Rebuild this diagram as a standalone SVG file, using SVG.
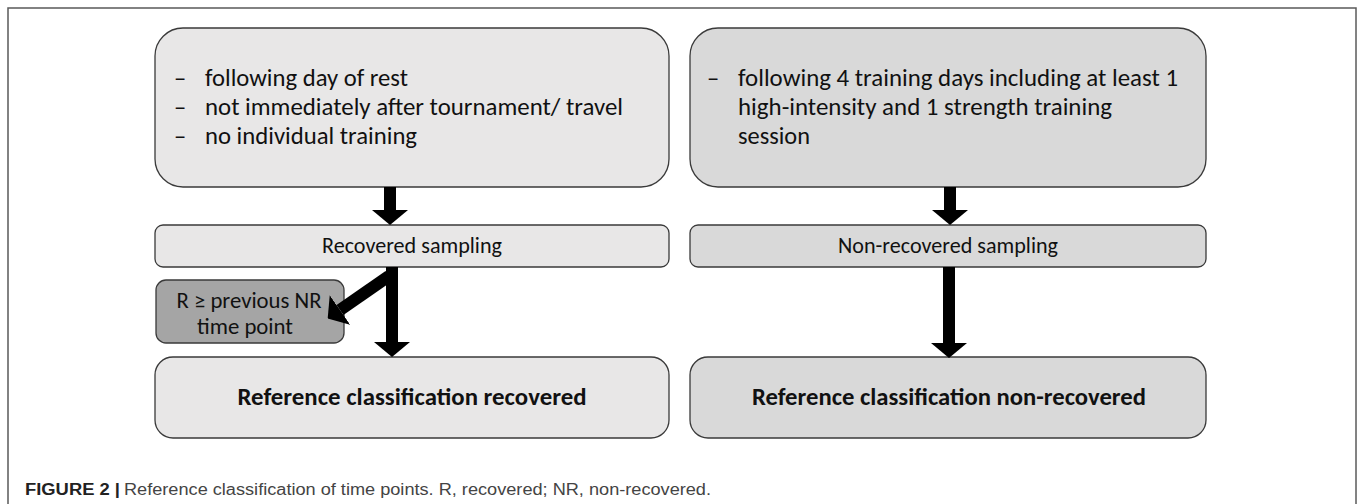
<svg xmlns="http://www.w3.org/2000/svg" width="1358" height="504" viewBox="0 0 1358 504">
<defs>
<style>
.frame{fill:none;stroke:#5a5a5a;stroke-width:1.5}
.box{stroke:#3a3a3a;stroke-width:1.3}
.light{fill:#e8e7e7}
.mid{fill:#d9d9d9}
.dark{fill:#a5a5a5}
.t{font-family:Carlito,Lato,"Liberation Sans",sans-serif;fill:#111}
.body{font-size:24.5px}
.samp{font-size:22px}
.small{font-size:22px}
.bold{font-size:24.5px;font-weight:bold}
.cap{font-family:"Liberation Sans",Arial,sans-serif;font-size:16px}
.conn{stroke:#000;stroke-width:12;fill:none}
</style>
<marker id="head" markerUnits="userSpaceOnUse" markerWidth="15" markerHeight="36" refX="0" refY="18" orient="auto" viewBox="0 0 15 36">
<path d="M0,0 L15,18 L0,36 Z" fill="#000"/>
</marker>
</defs>
<rect width="1358" height="504" fill="#fff"/>
<rect class="frame" x="8" y="8" width="1348" height="530"/>

<g id="rest-criteria">
<rect class="box light" x="155" y="28" width="514" height="159" rx="28"/>
<text class="t body" x="174" y="86">–</text>
<text class="t body" x="205" y="86" textLength="203" lengthAdjust="spacingAndGlyphs">following day of rest</text>
<text class="t body" x="174" y="115">–</text>
<text class="t body" x="205" y="115" textLength="418" lengthAdjust="spacingAndGlyphs">not immediately after tournament/ travel</text>
<text class="t body" x="174" y="144">–</text>
<text class="t body" x="205" y="144" textLength="212" lengthAdjust="spacingAndGlyphs">no individual training</text>
</g>

<g id="training-criteria">
<rect class="box mid" x="690" y="28" width="516" height="159" rx="28"/>
<text class="t body" x="707" y="86">–</text>
<text class="t body" x="738" y="86" textLength="440" lengthAdjust="spacingAndGlyphs">following 4 training days including at least 1</text>
<text class="t body" x="738" y="115" textLength="374" lengthAdjust="spacingAndGlyphs">high-intensity and 1 strength training</text>
<text class="t body" x="738" y="144" textLength="72" lengthAdjust="spacingAndGlyphs">session</text>
</g>

<g id="recovered-sampling">
<rect class="box light" x="155" y="225" width="514" height="42" rx="8"/>
<text class="t samp" x="412" y="253" text-anchor="middle" textLength="180" lengthAdjust="spacingAndGlyphs">Recovered sampling</text>
</g>

<g id="nonrecovered-sampling">
<rect class="box mid" x="690" y="225" width="516" height="42" rx="8"/>
<text class="t samp" x="948" y="253" text-anchor="middle" textLength="220" lengthAdjust="spacingAndGlyphs">Non-recovered sampling</text>
</g>

<g id="r-condition">
<rect class="box dark" x="156" y="280" width="188" height="63" rx="10"/>
<text class="t small" x="249" y="308" text-anchor="middle" textLength="145" lengthAdjust="spacingAndGlyphs">R ≥ previous  NR</text>
<text class="t small" x="245" y="334" text-anchor="middle" textLength="96" lengthAdjust="spacingAndGlyphs">time point</text>
</g>

<g id="ref-recovered">
<rect class="box light" x="155" y="357" width="514" height="81" rx="18"/>
<text class="t bold" x="412" y="405" text-anchor="middle" textLength="349" lengthAdjust="spacingAndGlyphs">Reference classification recovered</text>
</g>

<g id="ref-nonrecovered">
<rect class="box mid" x="690" y="357" width="516" height="81" rx="18"/>
<text class="t bold" x="949" y="405" text-anchor="middle" textLength="394" lengthAdjust="spacingAndGlyphs">Reference classification non-recovered</text>
</g>

<g id="connectors">
<line class="conn" x1="390" y1="187" x2="390" y2="210" marker-end="url(#head)"/>
<line class="conn" x1="950" y1="187" x2="950" y2="210" marker-end="url(#head)"/>
<line class="conn" x1="392" y1="267" x2="392" y2="342" marker-end="url(#head)"/>
<line class="conn" x1="949" y1="267" x2="949" y2="343" marker-end="url(#head)"/>
<line class="conn" x1="389" y1="276" x2="340" y2="310" marker-end="url(#head)"/>
</g>

<g id="caption">
<text class="cap" x="25" y="495" font-weight="bold" fill="#222" textLength="95" lengthAdjust="spacingAndGlyphs">FIGURE 2 |</text>
<text class="cap" x="124" y="495" fill="#444" textLength="587" lengthAdjust="spacingAndGlyphs">Reference classification of time points. R, recovered; NR, non-recovered.</text>
</g>
</svg>
